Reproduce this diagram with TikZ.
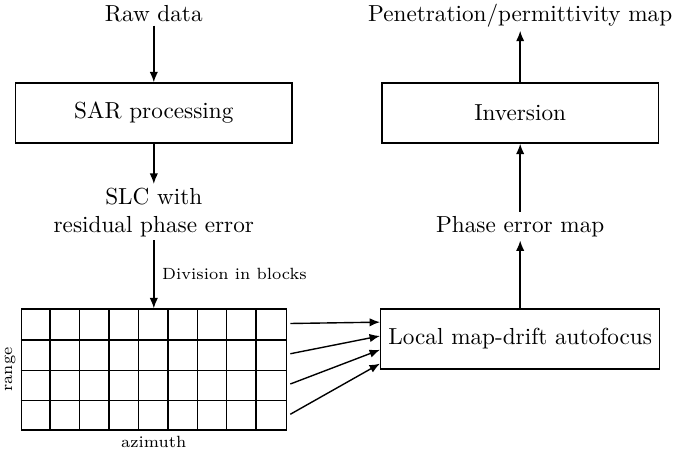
\documentclass[tikz,border=0pt]{standalone}
\usepackage{tikz}
\usetikzlibrary{calc,arrows.meta}
\tikzset{
    block/.style={draw, semithick, minimum width=4.19cm, minimum height=0.909cm},
    label/.style={inner sep=1.5pt},
    flow/.style={-{Latex[length=4.5pt,width=3.6pt]}, semithick},
}
\def\cellw{0.4461}
\def\cellh{0.4583}

\begin{document}
\begin{tikzpicture}
    \useasboundingbox (0,0) rectangle (10.21,6.924);
    % processing chain
    \node[label, anchor=base] (raw) at (2.33,6.605) {Raw data};
    \node[block] (sar) at (2.33,5.212) {SAR processing};
    \node[label, anchor=base, align=center] (slc) at (2.33,3.409) {SLC with\\residual phase error};
    \node[draw, semithick, inner sep=0pt, minimum width=4.015cm, minimum height=1.833cm] (blocks) at (2.33,1.3256) {};
    \foreach \i in {1,...,8}
        \draw[semithick] ($(blocks.south west)+(\i*\cellw,0)$) -- ++(0,4*\cellh);
    \foreach \j in {1,2,3}
        \draw[semithick] ($(blocks.south west)+(0,\j*\cellh)$) -- ++(9*\cellw,0);
    \node[rotate=90, anchor=south, font=\scriptsize, inner sep=2pt] (range) at (blocks.west) {range};
    \node[below, font=\scriptsize, inner sep=2pt] (azim) at (blocks.south) {azimuth};
    % estimation and inversion
    \node[block] (local) at (7.88,1.788) {Local map-drift autofocus};
    \node[label, anchor=base] (phase) at (7.88,3.409) {Phase error map};
    \node[block] (inv) at (7.88,5.212) {Inversion};
    \node[label, anchor=base] (pen) at (7.88,6.605) {Penetration/permittivity map};
    % arrows
    \draw[flow] (raw) -- (sar);
    \draw[flow] (sar) -- (slc);
    \draw[flow] (slc) -- node[right, font=\scriptsize] (div) {Division in blocks} (blocks);
    \foreach \k in {1,...,4}
        \draw[flow] ($(blocks.north east)+(0.05,{-(\k-0.5)*\cellh})$) -- ($(local.north west)!{0.225*\k}!(local.south west)$);
    \draw[flow] (local) -- (phase);
    \draw[flow] (phase) -- (inv);
    \draw[flow] (inv) -- (pen);
\end{tikzpicture}
\end{document}
